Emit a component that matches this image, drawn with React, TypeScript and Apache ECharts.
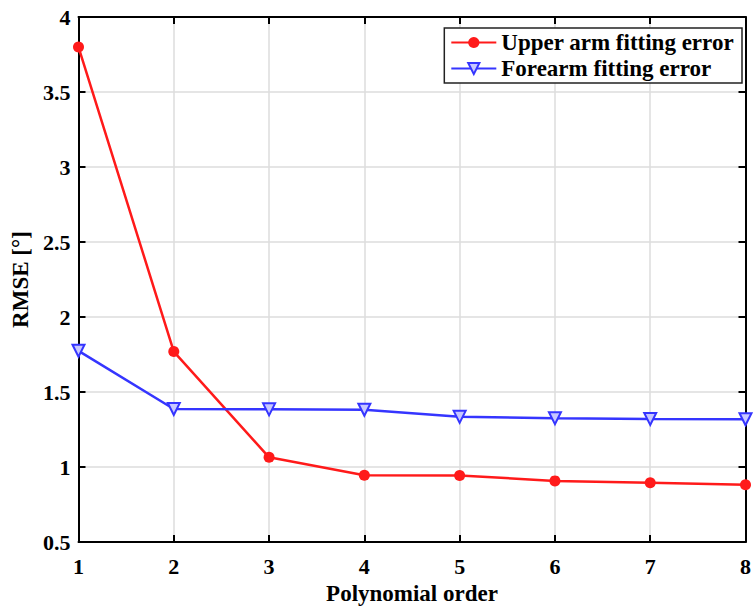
import React, { useEffect, useRef } from "react";
import * as echarts from "echarts";

const orders = [1, 2, 3, 4, 5, 6, 7, 8];
const upperArm = [3.8, 1.77, 1.065, 0.945, 0.944, 0.908, 0.895, 0.882];
const forearm = [1.775, 1.387, 1.385, 1.382, 1.335, 1.326, 1.321, 1.319];
const seriesNames = ["Upper arm fitting error", "Forearm fitting error"];
const xName = "Polynomial order";
const yName = "RMSE [°]";

const FONT = "'Liberation Serif', 'Times New Roman', serif";

export default function App() {
  const ref = useRef<HTMLDivElement>(null);
  useEffect(() => {
    if (!ref.current) return;
    const chart = echarts.init(ref.current, null, { renderer: "svg" });
    const tickLabel = { fontFamily: FONT, fontWeight: "bold", fontSize: 22, color: "#000" };
    const axisLine = { show: true, lineStyle: { color: "#000", width: 2 } };
    const axisTick = { show: true, inside: true, length: 7, lineStyle: { color: "#000", width: 2 } };
    chart.setOption({
      animation: false,
      backgroundColor: "#fff",
      grid: { left: 78.5, right: 3, top: 17, bottom: 63, show: false },
      legend: {
        orient: "vertical",
        right: 12,
        top: 28,
        backgroundColor: "#fff",
        borderColor: "#222",
        borderWidth: 1.5,
        padding: [3, 8, 3, 6],
        itemGap: 3,
        itemWidth: 45,
        itemHeight: 14,
        textStyle: { fontFamily: FONT, fontWeight: "bold", fontSize: 23, color: "#000", padding: [0, 0, 0, 0] },
        data: seriesNames,
      },
      xAxis: [
        {
          type: "value",
          min: 1,
          max: 8,
          interval: 1,
          name: xName,
          nameLocation: "middle",
          nameGap: 39,
          nameTextStyle: { fontFamily: FONT, fontWeight: "bold", fontSize: 23, color: "#000" },
          axisLine,
          axisTick,
          axisLabel: { ...tickLabel, margin: 13 },
          splitLine: { show: true, lineStyle: { color: "#dcdcdc", width: 1.5 } },
        },
        {
          type: "value",
          position: "top",
          min: 1,
          max: 8,
          interval: 1,
          axisLine,
          axisTick,
          axisLabel: { show: false },
          splitLine: { show: false },
        },
      ],
      yAxis: [
        {
          type: "value",
          min: 0.5,
          max: 4,
          interval: 0.5,
          name: yName,
          nameLocation: "middle",
          nameGap: 40,
          nameTextStyle: { fontFamily: FONT, fontWeight: "bold", fontSize: 23, color: "#000" },
          axisLine,
          axisTick,
          axisLabel: { ...tickLabel, margin: 8 },
          splitLine: { show: true, lineStyle: { color: "#dcdcdc", width: 1.5 } },
        },
        {
          type: "value",
          position: "right",
          min: 0.5,
          max: 4,
          interval: 0.5,
          axisLine,
          axisTick,
          axisLabel: { show: false },
          splitLine: { show: false },
        },
      ],
      series: [
        {
          name: seriesNames[0],
          type: "line",
          data: orders.map((o, i) => [o, upperArm[i]]),
          symbol: "circle",
          symbolSize: 11,
          lineStyle: { color: "#ff1a1a", width: 2.5 },
          itemStyle: { color: "#ff1a1a" },
          z: 3,
        },
        {
          name: seriesNames[1],
          type: "line",
          data: orders.map((o, i) => [o, forearm[i]]),
          symbol: "triangle",
          symbolRotate: 180,
          symbolSize: 12,
          lineStyle: { color: "#3535ff", width: 2.5 },
          itemStyle: { color: "#c8c8ff", borderColor: "#3535ff", borderWidth: 2 },
          z: 3,
        },
      ],
    });
    return () => chart.dispose();
  }, []);
  return <div ref={ref} style={{ width: 754, height: 610, position: "absolute", left: 0, top: 0 }} />;
}
